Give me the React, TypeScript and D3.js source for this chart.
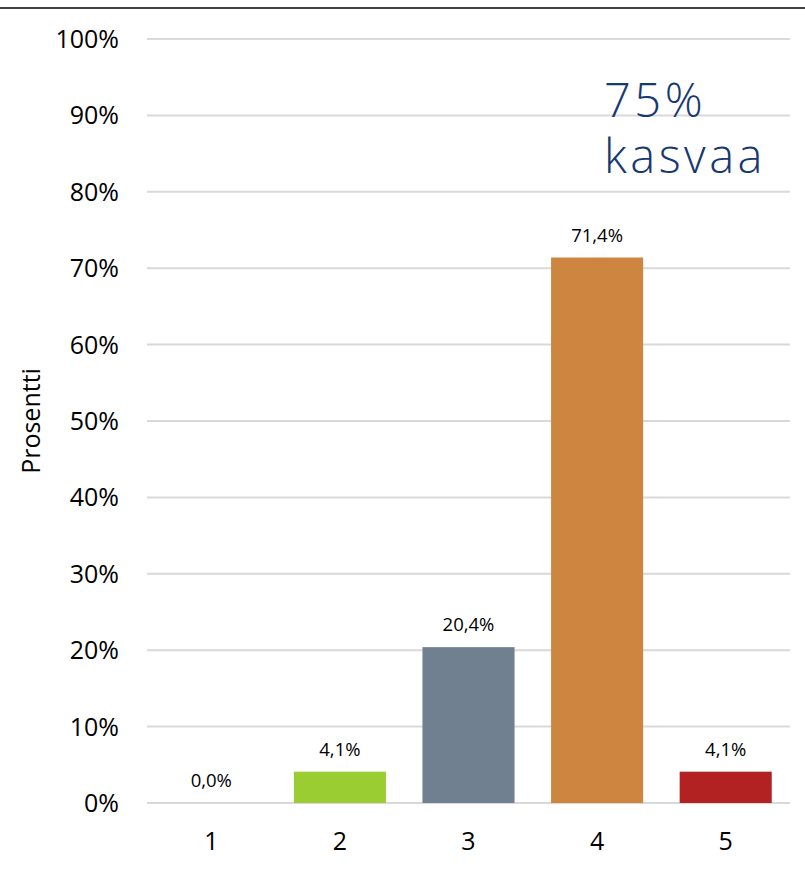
import React from 'react';
import * as d3 from 'd3';

// chart data
const categories = ['1', '2', '3', '4', '5'];
const values = [0.0, 0.041, 0.204, 0.714, 0.041];
const valueLabels = ['0,0%', '4,1%', '20,4%', '71,4%', '4,1%'];
const barColors = ['#9ACD32', '#9ACD32', '#708090', '#CD853F', '#B22222'];
const yTickValues = [0, 0.1, 0.2, 0.3, 0.4, 0.5, 0.6, 0.7, 0.8, 0.9, 1.0];
const yTitle = 'Prosentti';
const noteLines = ['75%', 'kasvaa'];

const App = () => {
    const width = 805;
    const height = 869;
    const margin = {t: 39, b: 66, l: 147, r: 15};
    const font = "'Open Sans', sans-serif";

    const x = d3.scaleBand()
        .domain(categories)
        .range([margin.l, width - margin.r])
        .paddingInner(0.284)
        .paddingOuter(0.142);

    const y = d3.scaleLinear()
        .domain([0, 1])
        .range([height - margin.b, margin.t]);

    const fmt = (d: number) => d3.format('.0%')(d);

    const gridlines = yTickValues.map(d =>
        <line key={'g' + d} x1={margin.l} x2={width - margin.r} y1={y(d)} y2={y(d)}
            stroke="#D9D9D9" strokeWidth={2}/>
    );

    const yLabels = yTickValues.map(d =>
        <text key={'t' + d} x={margin.l - 28} y={y(d)} dy="0.36em" textAnchor="end"
            fontSize={25} fill="#000">{fmt(d)}</text>
    );

    const bars = categories.map((c, i) =>
        <rect key={'b' + c} x={x(c)} y={y(values[i])}
            width={x.bandwidth()} height={y(0) - y(values[i])} fill={barColors[i]}/>
    );

    const labels = categories.map((c, i) =>
        <text key={'v' + c} x={(x(c) as number) + x.bandwidth() / 2} y={y(values[i]) - 16}
            textAnchor="middle" fontSize={18.5} fill="#000">{valueLabels[i]}</text>
    );

    const xLabels = categories.map(c =>
        <text key={'x' + c} x={(x(c) as number) + x.bandwidth() / 2} y={height - 19}
            textAnchor="middle" fontSize={25} fill="#000">{c}</text>
    );

    return (
        <svg width={width} height={height} style={{position: 'absolute', left: 0, top: 0}}
            fontFamily={font}>
            <rect width={width} height={height} fill="#fff"/>
            <line x1={0} x2={width} y1={8} y2={8} stroke="#000" strokeWidth={1.6}/>
            <g>{gridlines}</g>
            <g>{bars}</g>
            <g>{labels}</g>
            <g>{yLabels}</g>
            <g>{xLabels}</g>
            <text transform={`translate(40,${(y(0) + y(1)) / 2}) rotate(-90)`} textAnchor="middle"
                fontSize={25} fill="#000">{yTitle}</text>
            <g fill="#183870" fontFamily="'Century Gothic', 'URW Gothic', 'Open Sans', sans-serif"
                fontWeight={300} fontSize={47} letterSpacing={3.5}>
                <text x={604} y={117}>{noteLines[0]}</text>
                <text x={604} y={173}>{noteLines[1]}</text>
            </g>
        </svg>
    );
};

export default App;
